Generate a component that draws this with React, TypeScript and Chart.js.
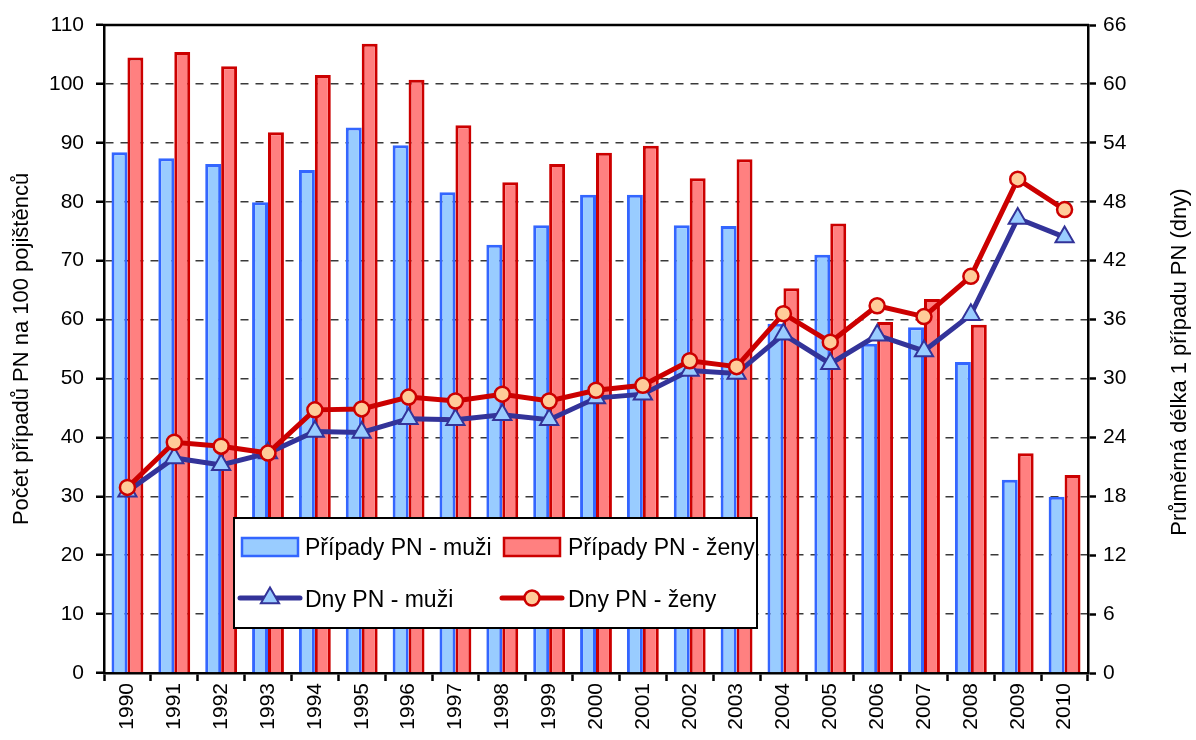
import React, { useEffect, useRef } from 'react';
import { Chart, registerables } from 'chart.js';

Chart.register(...registerables);

const years = ['1990', '1991', '1992', '1993', '1994', '1995', '1996', '1997', '1998', '1999', '2000', '2001', '2002', '2003', '2004', '2005', '2006', '2007', '2008', '2009', '2010'];

const pripadyMuzi = [88.4, 87.4, 86.4, 79.9, 85.4, 92.6, 89.6, 81.6, 72.7, 76.0, 81.2, 81.2, 76.0, 75.9, 59.3, 71.0, 55.9, 58.7, 52.8, 32.8, 29.9];
const pripadyZeny = [104.5, 105.4, 103.0, 91.8, 101.5, 106.8, 100.7, 93.0, 83.3, 86.4, 88.3, 89.5, 84.0, 87.2, 65.3, 76.3, 59.6, 63.5, 59.1, 37.3, 33.6];
const dnyMuzi = [18.5, 21.9, 21.2, 22.4, 24.6, 24.5, 25.9, 25.8, 26.3, 25.8, 28.0, 28.4, 30.8, 30.5, 34.5, 31.5, 34.4, 32.8, 36.5, 46.3, 44.4];
const dnyZeny = [18.9, 23.5, 23.1, 22.4, 26.8, 26.9, 28.1, 27.7, 28.4, 27.7, 28.8, 29.3, 31.8, 31.2, 36.6, 33.7, 37.4, 36.3, 40.4, 50.3, 47.2];

const seriesLabels = ['Případy PN - muži', 'Případy PN - ženy', 'Dny PN - muži', 'Dny PN - ženy'];
const leftTitle = 'Počet případů PN na 100 pojištěnců';
const rightTitle = 'Průměrná délka 1 případu PN (dny)';
const leftMax = 110;
const leftStep = 10;
const rightMax = 66;
const rightStep = 6;

const FONT = '"Liberation Sans", Arial, sans-serif';

const framePlugin = {
  id: 'frameTop',
  beforeDatasetsDraw(chart: any) {
    const { ctx, chartArea } = chart;
    ctx.save();
    ctx.strokeStyle = '#000';
    ctx.lineWidth = 2.5;
    ctx.beginPath();
    ctx.moveTo(chartArea.left - 1, chartArea.top);
    ctx.lineTo(chartArea.right + 1, chartArea.top);
    ctx.stroke();
    ctx.restore();
  },
};

const drawMarker = (ctx: CanvasRenderingContext2D, style: string, cx: number, cy: number, r: number) => {
  ctx.beginPath();
  if (style === 'triangle') {
    ctx.moveTo(cx, cy - r);
    ctx.lineTo(cx + r * Math.sin((2 * Math.PI) / 3), cy + r / 2);
    ctx.lineTo(cx - r * Math.sin((2 * Math.PI) / 3), cy + r / 2);
    ctx.closePath();
  } else {
    ctx.arc(cx, cy, r, 0, Math.PI * 2);
  }
  ctx.fill();
  ctx.stroke();
};

const legendPlugin = {
  id: 'customLegend',
  afterDraw(chart: any) {
    const ctx: CanvasRenderingContext2D = chart.ctx;
    const ds = chart.data.datasets;
    ctx.save();
    ctx.fillStyle = '#fff';
    ctx.fillRect(234, 518, 523, 110);
    ctx.strokeStyle = '#000';
    ctx.lineWidth = 2;
    ctx.strokeRect(234, 518, 523, 110);
    const boxX = [242, 504];
    const textX = [305, 568];
    ctx.font = `23px ${FONT}`;
    ctx.textBaseline = 'alphabetic';
    ctx.textAlign = 'left';
    for (let i = 0; i < 2; i++) {
      const d = ds[i];
      ctx.fillStyle = d.backgroundColor;
      ctx.fillRect(boxX[i], 538, 56, 18);
      ctx.strokeStyle = d.borderColor;
      ctx.lineWidth = 2.5;
      ctx.strokeRect(boxX[i], 538, 56, 18);
      ctx.fillStyle = '#000';
      ctx.fillText(d.label, textX[i], 555);
    }
    for (let i = 0; i < 2; i++) {
      const d = ds[i + 2];
      const x0 = boxX[i] - 2;
      const x1 = boxX[i] + 58;
      const y = 598;
      ctx.strokeStyle = d.borderColor;
      ctx.lineWidth = d.borderWidth;
      ctx.lineCap = 'round';
      ctx.beginPath();
      ctx.moveTo(x0, y);
      ctx.lineTo(x1, y);
      ctx.stroke();
      ctx.lineCap = 'butt';
      ctx.fillStyle = d.pointBackgroundColor;
      ctx.strokeStyle = d.pointBorderColor;
      ctx.lineWidth = d.pointBorderWidth;
      drawMarker(ctx, d.pointStyle, (x0 + x1) / 2, y, d.pointRadius);
      ctx.fillStyle = '#000';
      ctx.fillText(d.label, textX[i], 607);
    }
    // right axis title (reads bottom-to-top)
    ctx.save();
    ctx.translate(1180, 362);
    ctx.rotate(-Math.PI / 2);
    ctx.font = `22px ${FONT}`;
    ctx.textAlign = 'center';
    ctx.textBaseline = 'middle';
    ctx.fillStyle = '#000';
    ctx.fillText(rightTitle, 0, 0);
    ctx.restore();
    ctx.restore();
  },
};

export default function App() {
  const canvasRef = useRef<HTMLCanvasElement>(null);

  useEffect(() => {
    document.body.style.margin = '0';
    const canvas = canvasRef.current;
    if (!canvas) return;
    Chart.defaults.color = '#000';
    Chart.defaults.font.family = FONT;
    const chart = new Chart(canvas, {
      type: 'bar',
      data: {
        labels: years,
        datasets: [
          {
            type: 'bar',
            label: seriesLabels[0],
            data: pripadyMuzi,
            yAxisID: 'y',
            backgroundColor: '#99CCFF',
            borderColor: '#3366FF',
            borderWidth: 3,
            categoryPercentage: 0.68,
            barPercentage: 1,
            order: 4,
          },
          {
            type: 'bar',
            label: seriesLabels[1],
            data: pripadyZeny,
            yAxisID: 'y',
            backgroundColor: '#FF8080',
            borderColor: '#CC0000',
            borderWidth: 3,
            categoryPercentage: 0.68,
            barPercentage: 1,
            order: 4,
          },
          {
            type: 'line',
            label: seriesLabels[2],
            data: dnyMuzi,
            yAxisID: 'y1',
            borderColor: '#333399',
            borderWidth: 5,
            pointStyle: 'triangle',
            pointRadius: 10.5,
            pointBackgroundColor: '#99CCFF',
            pointBorderColor: '#333399',
            pointBorderWidth: 2,
            tension: 0,
            order: 2,
          },
          {
            type: 'line',
            label: seriesLabels[3],
            data: dnyZeny,
            yAxisID: 'y1',
            borderColor: '#CC0000',
            borderWidth: 5,
            pointStyle: 'circle',
            pointRadius: 7.5,
            pointBackgroundColor: '#FFCC99',
            pointBorderColor: '#CC0000',
            pointBorderWidth: 2.5,
            tension: 0,
            order: 1,
          },
        ],
      } as any,
      options: {
        animation: false,
        responsive: false,
        maintainAspectRatio: false,
        layout: { padding: { top: 25, left: 0, right: 0, bottom: 0 } },
        plugins: {
          legend: { display: false },
          tooltip: { enabled: false },
        },
        scales: {
          x: {
            offset: true,
            grid: {
              offset: true,
              drawOnChartArea: false,
              drawTicks: true,
              tickLength: 8,
              tickColor: '#000',
              tickWidth: 2.5,
            },
            border: { color: '#000', width: 2.5 },
            ticks: {
              maxRotation: 90,
              minRotation: 90,
              autoSkip: false,
              padding: 2,
              color: '#000',
              font: { family: FONT, size: 21 },
            },
            afterFit: (s: any) => {
              s.height = 67;
            },
          },
          y: {
            position: 'left',
            min: 0,
            max: leftMax,
            ticks: {
              stepSize: leftStep,
              padding: 12,
              color: '#000',
              font: { family: FONT, size: 21 },
            },
            grid: {
              color: (c: any) =>
                c.tick && (c.tick.value === 0 || c.tick.value === leftMax) ? 'rgba(0,0,0,0)' : '#3a3a3a',
              lineWidth: 1.5,
              tickColor: '#000',
              tickLength: 8,
              tickWidth: 2.5,
            },
            border: { color: '#000', width: 2.5, dash: [8, 7] },
            title: {
              display: true,
              text: leftTitle,
              color: '#000',
              font: { family: FONT, size: 22 },
              padding: { top: 9, bottom: 0 },
            },
            afterFit: (s: any) => {
              s.width = 104;
            },
          },
          y1: {
            position: 'right',
            min: 0,
            max: rightMax,
            ticks: {
              stepSize: rightStep,
              padding: 7,
              color: '#000',
              font: { family: FONT, size: 21 },
            },
            grid: {
              drawOnChartArea: false,
              tickColor: '#000',
              tickLength: 8,
              tickWidth: 2.5,
            },
            border: { color: '#000', width: 2.5 },
            afterFit: (s: any) => {
              s.width = 108;
            },
          },
        },
      } as any,
      plugins: [framePlugin, legendPlugin],
    });
    return () => chart.destroy();
  }, []);

  return (
    <div style={{ position: 'absolute', left: 0, top: 0, width: 1196, height: 740 }}>
      <canvas ref={canvasRef} width={1196} height={740} />
    </div>
  );
}
